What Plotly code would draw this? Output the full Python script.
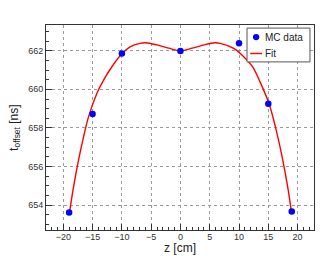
import plotly.graph_objects as go

# MC data points
z_data = [-19, -15, -10, 0, 10, 15, 19]
t_data = [653.63, 658.72, 661.86, 661.98, 662.38, 659.25, 653.68]

# Fit curve
z_fit = [-18.92, -18.24, -17.39, -16.53, -15.68, -14.25, -13.12, -11.7, -10.0,
         -8.6, -6.9, -6.0, -4.0, -2.0, 0.0, 2.0, 4.0, 5.9, 6.8, 9.1, 10.8, 12.3,
         13.7, 15.1, 16.2, 17.35, 18.3, 18.9]
t_fit = [653.67, 654.97, 656.35, 657.55, 658.59, 659.8, 660.48, 661.17, 661.84,
         662.2, 662.38, 662.41, 662.3, 662.13, 662.0, 662.13, 662.3, 662.41, 662.38,
         662.12, 661.69, 661.17, 660.31, 659.28, 658.07, 656.52, 654.96, 653.76]

legend_labels = ["MC data", "Fit"]
data_color = "#0000ff"
fit_color = "#ff0000"

x_range = [-22.95, 22.8]
y_range = [652.72, 663.33]

fig = go.Figure()
fig.add_trace(go.Scatter(x=z_fit, y=t_fit, mode="lines", name=legend_labels[1], showlegend=False,
                         line=dict(color=fit_color, width=1.4, shape="spline", smoothing=1.0)))
fig.add_trace(go.Scatter(x=z_data, y=t_data, mode="markers", name=legend_labels[0], showlegend=False,
                         marker=dict(color=data_color, size=6.5)))

axis_common = dict(
    showline=True, linecolor="#333333", linewidth=1, mirror=True,
    ticks="inside", tickcolor="#333333", ticklen=6,
    showgrid=True, gridcolor="#9a9a9a", griddash="dot", gridwidth=1,
    zeroline=False, automargin=False,
    tickfont=dict(family="Liberation Sans, Arial", size=9, color="#333333"),
)

# compact legend box (ROOT TLegend style), in paper coordinates
leg_x0, leg_x1, leg_y0, leg_y1 = 0.750, 0.985, 0.820, 0.985
shapes = [
    dict(type="rect", xref="paper", yref="paper", x0=leg_x0, x1=leg_x1, y0=leg_y0, y1=leg_y1,
         fillcolor="white", line=dict(color="#555555", width=1), layer="above"),
    dict(type="circle", xref="paper", yref="paper", x0=0.784 - 0.0118, x1=0.784 + 0.0118,
         y0=0.941 - 0.0154, y1=0.941 + 0.0154, fillcolor=data_color, line=dict(width=0),
         layer="above"),
    dict(type="line", xref="paper", yref="paper", x0=0.762, x1=0.806, y0=0.861, y1=0.861,
         line=dict(color=fit_color, width=1.4), layer="above"),
]

fig.update_layout(
    width=331, height=256,
    margin=dict(l=46, r=17, t=25, b=26),
    paper_bgcolor="white", plot_bgcolor="white",
    font=dict(family="Liberation Sans, Arial", color="#222222"),
    xaxis=dict(range=x_range, tickmode="array", tickvals=[-20, -15, -10, -5, 0, 5, 10, 15, 20],
               minor=dict(dtick=1, tick0=0, ticks="inside", ticklen=3, tickcolor="#333333", showgrid=False),
               ticklabelstandoff=-2,
               **axis_common),
    yaxis=dict(range=y_range, tickmode="array", tickvals=[654, 656, 658, 660, 662],
               minor=dict(dtick=0.5, tick0=0, ticks="inside", ticklen=3, tickcolor="#333333", showgrid=False),
               **axis_common),
    showlegend=False,
    shapes=shapes,
    annotations=[
        dict(text="z [cm]", xref="paper", yref="paper", x=0.5, y=-0.088,
             xanchor="center", yanchor="middle", showarrow=False,
             font=dict(size=12, color="#222222")),
        dict(text="t<sub>offset</sub> [ns]", xref="paper", yref="paper", x=-0.118, y=0.5,
             xanchor="center", yanchor="middle", showarrow=False, textangle=-90,
             font=dict(size=12, color="#222222")),
        dict(text=legend_labels[0], xref="paper", yref="paper", x=0.808, y=0.941,
             xanchor="left", yanchor="middle", showarrow=False,
             font=dict(size=10, color="#222222")),
        dict(text=legend_labels[1], xref="paper", yref="paper", x=0.808, y=0.861,
             xanchor="left", yanchor="middle", showarrow=False,
             font=dict(size=10, color="#222222")),
    ],
)

fig.write_html("out.html", config={"displayModeBar": False},
               post_script="document.body.style.margin='0';")
